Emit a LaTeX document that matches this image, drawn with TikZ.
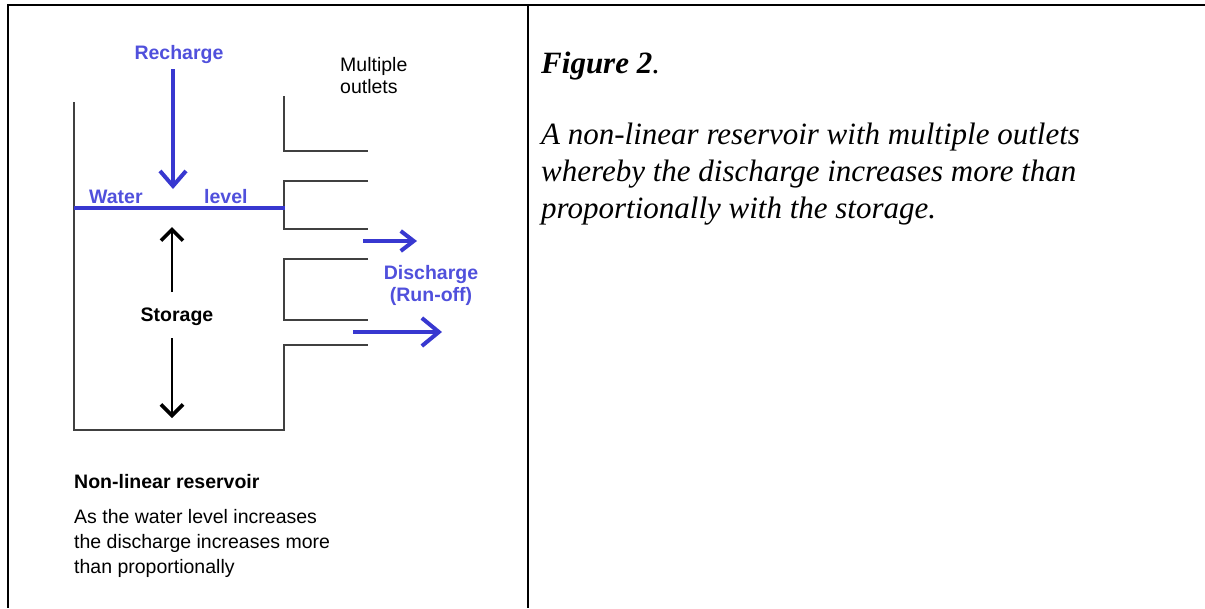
\documentclass[tikz,border=0pt]{standalone}
\usepackage{fontspec}
\setmainfont{Liberation Serif}
\setsansfont{Liberation Sans}
\usetikzlibrary{arrows.meta,positioning}
\definecolor{flowblue}{RGB}{56,56,208}
\definecolor{labelblue}{RGB}{80,80,220}
\definecolor{wallgray}{RGB}{64,64,64}

\begin{document}
\begin{tikzpicture}[x=1pt, y=-1pt,
  frame/.style={draw=black, line width=2pt},
  wall/.style={draw=wallgray, line width=1.8pt},
  waterline/.style={draw=flowblue, line width=4pt},
  flow/.style={draw=flowblue, line width=4pt,
    -{Straight Barb[length=15pt, width=26pt]}},
  storarrow/.style={draw=black, line width=1.8pt,
    -{Straight Barb[length=11pt, width=22pt, line width=3.6pt]}},
  bluelabel/.style={font=\sffamily\bfseries\fontsize{19.5}{22}\selectfont,
    text=labelblue, inner sep=0pt, anchor=base},
  blacklabel/.style={font=\sffamily\fontsize{19.5}{21.5}\selectfont,
    text=black, inner sep=0pt, align=left, anchor=base west},
  caption/.style={font=\rmfamily\itshape\fontsize{31}{37}\selectfont,
    inner sep=0pt, align=left, anchor=base west}
]
\useasboundingbox (0,0) rectangle (1205,608);
% table frame
\draw[frame] (7,5) -- (1205,5);
\draw[frame] (8,4) -- (8,608);
\draw[frame] (528,4) -- (528,608);

% reservoir
\draw[wall] (74,102) -- (74,430) -- (284,430) -- (284,345) -- (368,345);
\draw[wall] (284,96) -- (284,151) -- (368,151);
\foreach \t/\b in {181/229, 259/320} {\draw[wall] (368,\t) -- (284,\t) -- (284,\b) -- (368,\b);}
\draw[waterline] (74,208) -- (285,208);

% labels (base of a multi-line node = last line)
\node[bluelabel] (recharge) at (179,59) {Recharge};
\node[bluelabel, anchor=base west] (water) at (89,203) {Water};
\node[bluelabel, anchor=base west] (level) at (204,203) {level};
\node[bluelabel] (discharge) at (431,279) {Discharge};
\node[bluelabel] (runoff) at (431,301) {(Run-off)};
\node[bluelabel, text=black] (storage) at (177,321) {Storage};
\node[blacklabel] (outlets) at (340,93) {Multiple\\outlets};
\node[blacklabel, font=\sffamily\bfseries\fontsize{19.5}{22}\selectfont] (title) at (74,488) {Non-linear reservoir};
\node[blacklabel, font=\sffamily\fontsize{19.5}{24.8}\selectfont] (explain) at (74,573)
  {As the water level increases\\the discharge increases more\\than proportionally};

% arrows
\coordinate (rchin) at (173,69);
\coordinate (rchout) at (173,189);
\draw[flow] (rchin) -- (rchout);
\coordinate (stoup) at (172,292);
\coordinate (stotop) at (172,227);
\coordinate (stodown) at (172,338);
\coordinate (stobot) at (172,418);
\draw[storarrow] (stoup) -- (stotop);
\draw[storarrow] (stodown) -- (stobot);
\coordinate (outa) at (363,241);
\coordinate (outaend) at (417,241);
\coordinate (outb) at (353,332);
\coordinate (outbend) at (442,332);
\draw[flow, -{Straight Barb[length=13pt, width=20pt]}] (outa) -- (outaend);
\draw[flow, -{Straight Barb[length=17pt, width=28pt]}] (outb) -- (outbend);

% caption
\node[caption] (fig) at (541,73) {\textbf{Figure 2}.};
\node[caption] (figtext) at (541,218)
  {A non-linear reservoir with multiple outlets\\whereby the discharge increases more than\\proportionally with the storage.};
\end{tikzpicture}
\end{document}
